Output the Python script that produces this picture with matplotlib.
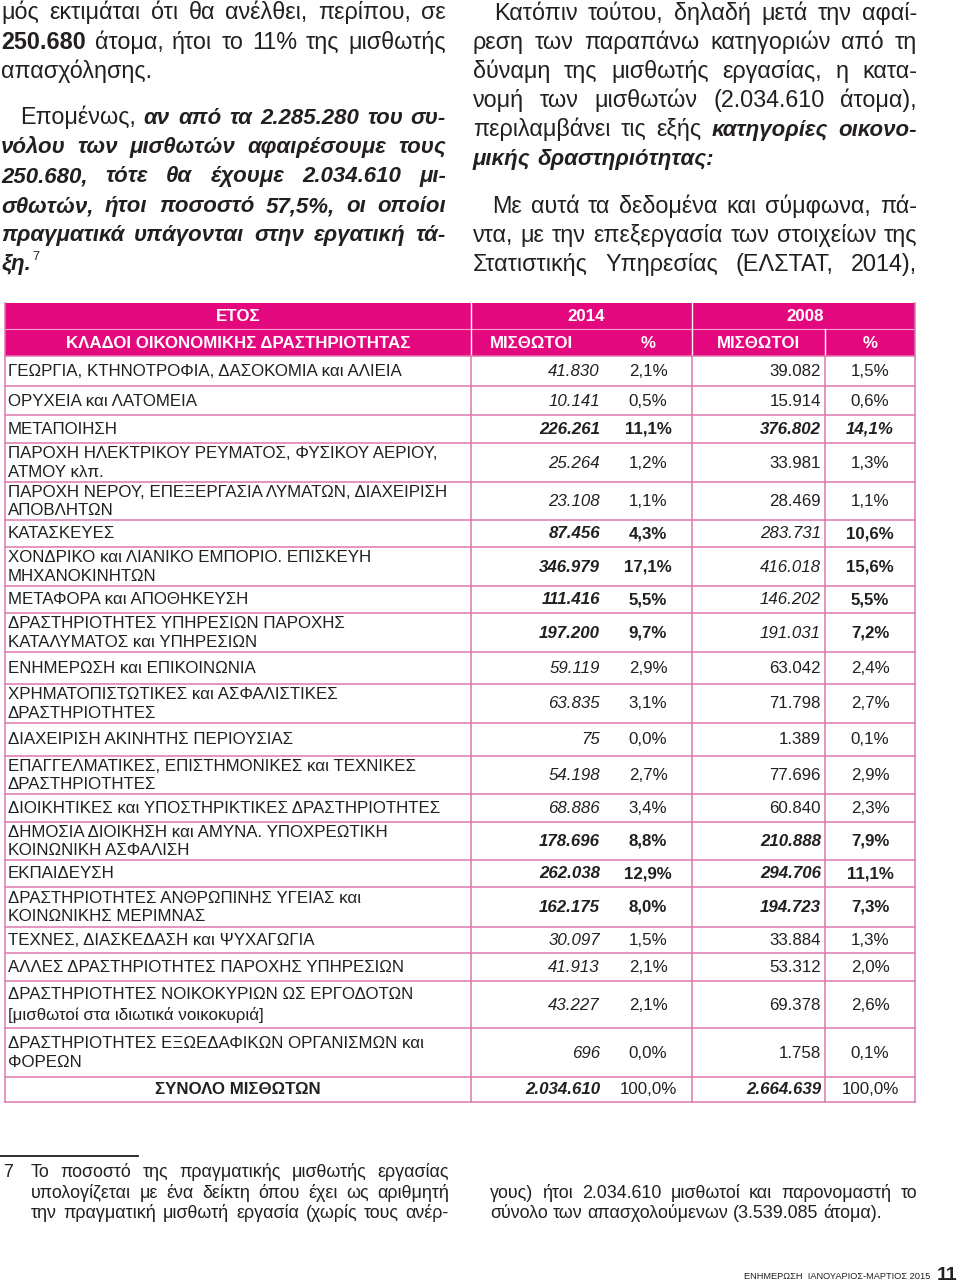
import matplotlib
matplotlib.use('Agg')
import matplotlib.pyplot as plt
from matplotlib import font_manager
from matplotlib.patches import Rectangle

# --- table data ---
sectors = [
    'ΓΕΩΡΓΙΑ, ΚΤΗΝΟΤΡΟΦΙΑ, ΔΑΣΟΚΟΜΙΑ και ΑΛΙΕΙΑ',
    'ΟΡΥΧΕΙΑ και ΛΑΤΟΜΕΙΑ',
    'ΜΕΤΑΠΟΙΗΣΗ',
    'ΠΑΡΟΧΗ ΗΛΕΚΤΡΙΚΟΥ ΡΕΥΜΑΤΟΣ, ΦΥΣΙΚΟΥ ΑΕΡΙΟΥ,\nΑΤΜΟΥ κλπ.',
    'ΠΑΡΟΧΗ ΝΕΡΟΥ, ΕΠΕΞΕΡΓΑΣΙΑ ΛΥΜΑΤΩΝ, ΔΙΑΧΕΙΡΙΣΗ\nΑΠΟΒΛΗΤΩΝ',
    'ΚΑΤΑΣΚΕΥΕΣ',
    'ΧΟΝΔΡΙΚΟ και ΛΙΑΝΙΚΟ ΕΜΠΟΡΙΟ. ΕΠΙΣΚΕΥΗ\nΜΗΧΑΝΟΚΙΝΗΤΩΝ',
    'ΜΕΤΑΦΟΡΑ και ΑΠΟΘΗΚΕΥΣΗ',
    'ΔΡΑΣΤΗΡΙΟΤΗΤΕΣ ΥΠΗΡΕΣΙΩΝ ΠΑΡΟΧΗΣ\nΚΑΤΑΛΥΜΑΤΟΣ και ΥΠΗΡΕΣΙΩΝ',
    'ΕΝΗΜΕΡΩΣΗ και ΕΠΙΚΟΙΝΩΝΙΑ',
    'ΧΡΗΜΑΤΟΠΙΣΤΩΤΙΚΕΣ και ΑΣΦΑΛΙΣΤΙΚΕΣ\nΔΡΑΣΤΗΡΙΟΤΗΤΕΣ',
    'ΔΙΑΧΕΙΡΙΣΗ ΑΚΙΝΗΤΗΣ ΠΕΡΙΟΥΣΙΑΣ',
    'ΕΠΑΓΓΕΛΜΑΤΙΚΕΣ, ΕΠΙΣΤΗΜΟΝΙΚΕΣ και ΤΕΧΝΙΚΕΣ\nΔΡΑΣΤΗΡΙΟΤΗΤΕΣ',
    'ΔΙΟΙΚΗΤΙΚΕΣ και ΥΠΟΣΤΗΡΙΚΤΙΚΕΣ ΔΡΑΣΤΗΡΙΟΤΗΤΕΣ',
    'ΔΗΜΟΣΙΑ ΔΙΟΙΚΗΣΗ και ΑΜΥΝΑ. ΥΠΟΧΡΕΩΤΙΚΗ\nΚΟΙΝΩΝΙΚΗ ΑΣΦΑΛΙΣΗ',
    'ΕΚΠΑΙΔΕΥΣΗ',
    'ΔΡΑΣΤΗΡΙΟΤΗΤΕΣ ΑΝΘΡΩΠΙΝΗΣ ΥΓΕΙΑΣ και\nΚΟΙΝΩΝΙΚΗΣ ΜΕΡΙΜΝΑΣ',
    'ΤΕΧΝΕΣ, ΔΙΑΣΚΕΔΑΣΗ και ΨΥΧΑΓΩΓΙΑ',
    'ΑΛΛΕΣ ΔΡΑΣΤΗΡΙΟΤΗΤΕΣ ΠΑΡΟΧΗΣ ΥΠΗΡΕΣΙΩΝ',
    'ΔΡΑΣΤΗΡΙΟΤΗΤΕΣ ΝΟΙΚΟΚΥΡΙΩΝ ΩΣ ΕΡΓΟΔΟΤΩΝ\n[μισθωτοί στα ιδιωτικά νοικοκυριά]',
    'ΔΡΑΣΤΗΡΙΟΤΗΤΕΣ ΕΞΩΕΔΑΦΙΚΩΝ ΟΡΓΑΝΙΣΜΩΝ και\nΦΟΡΕΩΝ',
]
emp_2014 = [41830, 10141, 226261, 25264, 23108, 87456, 346979, 111416, 197200, 59119,
            63835, 75, 54198, 68886, 178696, 262038, 162175, 30097, 41913, 43227, 696]
pct_2014 = [2.1, 0.5, 11.1, 1.2, 1.1, 4.3, 17.1, 5.5, 9.7, 2.9,
            3.1, 0.0, 2.7, 3.4, 8.8, 12.9, 8.0, 1.5, 2.1, 2.1, 0.0]
emp_2008 = [39082, 15914, 376802, 33981, 28469, 283731, 416018, 146202, 191031, 63042,
            71798, 1389, 77696, 60840, 210888, 294706, 194723, 33884, 53312, 69378, 1758]
pct_2008 = [1.5, 0.6, 14.1, 1.3, 1.1, 10.6, 15.6, 5.5, 7.2, 2.4,
            2.7, 0.1, 2.9, 2.3, 7.9, 11.1, 7.3, 1.3, 2.0, 2.6, 0.1]
total_label = 'ΣΥΝΟΛΟ ΜΙΣΘΩΤΩΝ'
total_2014, total_2008, total_pct = 2034610, 2664639, 100.0

# cell styles (emp14, pct14, emp08, pct08): r regular, b bold, i italic, bi bold italic
NORM = ('i', 'r', 'r', 'r')
BIG1 = ('bi', 'b', 'i', 'b')
BIG2 = ('bi', 'b', 'bi', 'b')
cell_style = [NORM, NORM, ('bi', 'b', 'bi', 'bi'), NORM, NORM, BIG1, BIG1, BIG1, BIG1, NORM,
              NORM, NORM, NORM, NORM, BIG2, BIG2, BIG2, NORM, NORM, NORM, NORM]
total_style = ('bi', 'r', 'bi', 'r')

# --- running text ---
left_lines = [
    [('r', 'μός εκτιμάται ότι θα ανέλθει, περίπου, σε')],
    [('b', '250.680'), ('r', ' άτομα, ήτοι το 11% της μισθωτής')],
    [('r', 'απασχόλησης.')],
    [('r', 'Επομένως, '), ('bi', 'αν από τα 2.285.280 του συ-')],
    [('bi', 'νόλου των μισθωτών αφαιρέσουμε τους')],
    [('bi', '250.680, τότε θα έχουμε 2.034.610 μι-')],
    [('bi', 'σθωτών, ήτοι ποσοστό 57,5%, οι οποίοι')],
    [('bi', 'πραγματικά υπάγονται στην εργατική τά-')],
    [('bi', 'ξη.')],
]
right_lines = [
    [('r', 'Κατόπιν τούτου, δηλαδή μετά την αφαί-')],
    [('r', 'ρεση των παραπάνω κατηγοριών από τη')],
    [('r', 'δύναμη της μισθωτής εργασίας, η κατα-')],
    [('r', 'νομή των μισθωτών (2.034.610 άτομα),')],
    [('r', 'περιλαμβάνει τις εξής '), ('bi', 'κατηγορίες οικονο-')],
    [('bi', 'μικής δραστηριότητας:')],
    [('r', 'Με αυτά τα δεδομένα και σύμφωνα, πά-')],
    [('r', 'ντα, με την επεξεργασία των στοιχείων της')],
    [('r', 'Στατιστικής Υπηρεσίας (ΕΛΣΤΑΤ, 2014),')],
]
foot_left = ['Το ποσοστό της πραγματικής μισθωτής εργασίας',
             'υπολογίζεται με ένα δείκτη όπου έχει ως αριθμητή',
             'την πραγματική μισθωτή εργασία (χωρίς τους ανέρ-']
foot_right = ['γους) ήτοι 2.034.610 μισθωτοί και παρονομαστή το',
              'σύνολο των απασχολούμενων (3.539.085 άτομα).']
footer = 'ΕΝΗΜΕΡΩΣΗ  ΙΑΝΟΥΑΡΙΟΣ-ΜΑΡΤΙΟΣ 2015'
page_no = '11'

# --- layout ---
left_base = [19, 49, 78, 124, 153, 182, 212, 241, 270]
left_just = [1, 1, 0, 1, 1, 1, 1, 1, 0]
left_ind = [0, 0, 0, 19, 0, 0, 0, 0, 0]
right_base = [20, 49, 78, 107, 136, 165, 213, 242, 271]
right_just = [1, 1, 1, 1, 1, 0, 1, 1, 1]
right_ind = [21, 0, 0, 0, 0, 0, 19, 0, 0]
row_h = [30, 29, 28, 39, 38, 27, 39, 27, 39, 32, 39, 33, 38, 28, 38, 27, 40, 26, 28, 47, 49, 25]
BODY = 16.8   # running text size
BODY_BI = 16.0  # bold italic is wider in Liberation Sans
TAB = 12.2    # table text size
FOOT = 12.9   # footnote size

TXT = '#231f20'
MAG = '#e4087e'
LINE = '#de78b0'
FONT = ['Liberation Sans', 'DejaVu Sans']
names = {f.name for f in font_manager.fontManager.ttflist}
NARROW = ['Liberation Sans Narrow', 'DejaVu Sans'] if 'Liberation Sans Narrow' in names else FONT
STY = {'r': ('normal', 'normal'), 'b': ('bold', 'normal'),
       'i': ('normal', 'italic'), 'bi': ('bold', 'italic')}

fig = plt.figure(figsize=(9.6, 12.85), dpi=100)
ax = fig.add_axes([0, 0, 1, 1])
ax.set_xlim(0, 960)
ax.set_ylim(1285, 0)
ax.axis('off')
rend = fig.canvas.get_renderer()


def put(x, y, s, st='r', size=11, color=TXT, family=FONT, **kw):
    w, sl = STY[st]
    kw.setdefault('va', 'baseline')
    kw.setdefault('ha', 'left')
    return ax.text(x, y, s, fontsize=size, fontweight=w, fontstyle=sl,
                   family=family, color=color, **kw)


def tokenize(pieces):
    words, new = [], True
    for st, text in pieces:
        for k, p in enumerate(text.split(' ')):
            if k > 0:
                new = True
            if p == '':
                continue
            if new:
                words.append([])
                new = False
            words[-1].append((p, st))
    return words


def text_line(x0, x1, y, pieces, size, justify=True, indent=0, size_bi=None):
    words = tokenize(pieces)
    objs, widths = [], []
    for word in words:
        wo, ww = [], 0
        for s, st in word:
            sz = size_bi if (st == 'bi' and size_bi) else size
            t = put(0, y, s, st, sz)
            w = t.get_window_extent(rend).width
            wo.append((t, w))
            ww += w
        objs.append(wo)
        widths.append(ww)
    gap = size * 100 / 72 * 0.28
    if justify and len(words) > 1:
        gap = (x1 - x0 - indent - sum(widths)) / (len(words) - 1)
    x = x0 + indent
    for wo in objs:
        for t, w in wo:
            t.set_x(x)
            x += w
        x += gap
    return x - gap


# running text columns
for pcs, yb, j, ind in zip(left_lines, left_base, left_just, left_ind):
    xe = text_line(1, 446, yb, pcs, BODY, j, ind, BODY_BI)
put(xe + 2, left_base[-1] - 10, '7', 'r', 9)
for pcs, yb, j, ind in zip(right_lines, right_base, right_just, right_ind):
    text_line(473, 917, yb, pcs, BODY, j, ind, BODY_BI)

# table header
x_l, x_a, x_b, x_c, x_r = 5, 471, 692, 825, 915
y_top, y_mid, y_hdr = 303, 329, 356
ax.add_patch(Rectangle((x_l, y_top), x_r - x_l, y_hdr - y_top, facecolor=MAG, edgecolor='none'))
ax.plot([x_l, x_r], [y_mid, y_mid], color='#f3a0cb', lw=0.8)
for xv, ya in [(x_a, y_top), (x_b, y_top), (x_c, y_mid)]:
    ax.plot([xv, xv], [ya, y_hdr], color='white', lw=1.0)
hdr = dict(st='b', size=TAB, color='white', va='center', ha='center')
put((x_l + x_a) / 2, 316.5, 'ΕΤΟΣ', **hdr)
put((x_l + x_a) / 2, 343, 'ΚΛΑΔΟΙ ΟΙΚΟΝΟΜΙΚΗΣ ΔΡΑΣΤΗΡΙΟΤΗΤΑΣ', **hdr)
put(586, 316.5, '2014', **hdr)
put(805, 316.5, '2008', **hdr)
put(531, 343, 'ΜΙΣΘΩΤΟΙ', **hdr)
put(648, 343, '%', **hdr)
put(758, 343, 'ΜΙΣΘΩΤΟΙ', **hdr)
put(870, 343, '%', **hdr)


def fmt_int(v):
    return f'{v:,}'.replace(',', '.')


def fmt_pct(p):
    return f'{p:.1f}'.replace('.', ',') + '%'


# table body
rows = list(zip(sectors, emp_2014, pct_2014, emp_2008, pct_2008, cell_style))
rows.append((total_label, total_2014, total_pct, total_2008, total_pct, total_style))
y = y_hdr
for i, (lab, v14, p14, v08, p08, cs) in enumerate(rows):
    y1 = y + row_h[i]
    ym = (y + y1) / 2 + 0.5
    if i == len(rows) - 1:
        put((x_l + x_a) / 2, ym, lab, 'b', TAB, va='center', ha='center')
    else:
        put(8, ym, lab, 'r', TAB, va='center', linespacing=1.4 if row_h[i] > 45 else 1.32)
    put(600, ym, fmt_int(v14), cs[0], TAB, va='center', ha='right')
    put(648, ym, fmt_pct(p14), cs[1], TAB, va='center', ha='center')
    put(821, ym, fmt_int(v08), cs[2], TAB, va='center', ha='right')
    put(870, ym, fmt_pct(p08), cs[3], TAB, va='center', ha='center')
    ax.plot([x_l, x_r], [y1, y1], color=LINE, lw=1.1)
    y = y1
ax.plot([x_l, x_r], [y_hdr, y_hdr], color=LINE, lw=1.1)
for xv in [x_l, x_a, x_b, x_c, x_r]:
    ax.plot([xv, xv], [y_hdr, y], color=LINE, lw=1.1)
for xv in [x_l, x_r]:
    ax.plot([xv, xv], [y_top, y_hdr], color=LINE, lw=1.1)

# footnote
ax.plot([0, 138], [1156, 1156], color=TXT, lw=1.3)
put(3, 1177, '7', 'r', FOOT)
for k, s in enumerate(foot_left):
    text_line(31, 449, 1177 + 20.5 * k, [('r', s)], FOOT, True)
for k, s in enumerate(foot_right):
    text_line(490, 917, 1197.5 + 20.5 * k, [('r', s)], FOOT, k == 0)

# page footer
ft = put(930, 1279, footer, 'r', 10.5, family=NARROW, ha='right')
w = ft.get_window_extent(rend).width
ft.set_fontsize(10.5 * 188 / w)
put(957, 1280, page_no, 'b', 14, family=NARROW, ha='right')

fig.savefig('out.png', dpi=100)
